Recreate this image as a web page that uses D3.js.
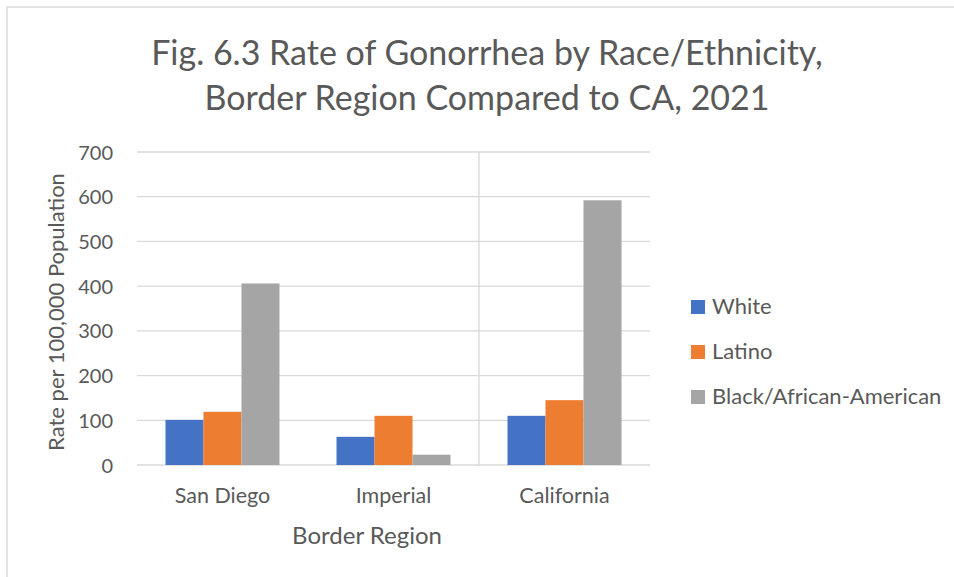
<!DOCTYPE html>
<html><head><meta charset="utf-8">
<script src="https://cdn.jsdelivr.net/npm/d3@7"></script>
<style>body{margin:0;background:#fff}svg text{font-family:Lato,"Open Sans",sans-serif;fill:#595959}</style>
</head><body><svg id="c" width="954" height="577"></svg>
<script>
const categories = ["San Diego", "Imperial", "California"];
const seriesNames = ["White", "Latino", "Black/African-American"];
const white = [101, 63, 110];
const latino = [119, 110, 145];
const black = [406, 23, 592];
const yTicks = [0, 100, 200, 300, 400, 500, 600, 700];
const colors = ["#4472c4", "#ed7d31", "#a5a5a5"];
const series = [white, latino, black];

const svg = d3.select("#c");
svg.append("rect").attr("x",7).attr("y",7).attr("width",990).attr("height",600)
  .attr("fill","none").attr("stroke","#e3e3e3").attr("stroke-width",2);

const x0 = d3.scaleBand().domain(categories).range([137, 650]).paddingInner(0).paddingOuter(0);
const x1 = d3.scaleBand().domain(seriesNames).range([0, x0.bandwidth()]).paddingInner(0).paddingOuter(0.75);
const y = d3.scaleLinear().domain([0, 700]).range([465, 152]);

// gridlines
svg.append("g").selectAll("line").data(yTicks).join("line")
  .attr("x1",137).attr("x2",650).attr("y1",d=>y(d)).attr("y2",d=>y(d))
  .attr("stroke","#d9d9d9").attr("stroke-width",1.3);
// vertical separator
svg.append("line").attr("x1",x0("California")).attr("x2",x0("California"))
  .attr("y1",y(700)).attr("y2",y(0)).attr("stroke","#d9d9d9").attr("stroke-width",1.3);

// y tick labels
const yAxis = d3.axisLeft(y).tickValues(yTicks).tickSize(0).tickPadding(0);
const ga = svg.append("g").attr("transform","translate(113,0)").call(yAxis);
ga.select(".domain").remove();
ga.selectAll("text").style("font-size","20px").attr("fill","#595959").attr("dy","0.35em");

// bars
series.forEach((vals, si) => {
  svg.append("g").selectAll("rect").data(vals).join("rect")
    .attr("x",(d,i)=>x0(categories[i]) + x1(seriesNames[si]))
    .attr("width",x1.bandwidth())
    .attr("y",d=>y(d)).attr("height",d=>y(0)-y(d))
    .attr("fill",colors[si]);
});

// x axis labels
const xAxis = d3.axisBottom(x0).tickSize(0).tickPadding(0);
const gx = svg.append("g").attr("transform","translate(0,495)").call(xAxis);
gx.select(".domain").remove();
gx.selectAll("text").style("font-size","21.5px").attr("fill","#595959").attr("dy","0.35em");

// axis titles
svg.append("text").attr("x",367).attr("y",538).attr("text-anchor","middle")
  .attr("dominant-baseline","middle").style("font-size","24px").text("Border Region");
svg.append("text").attr("transform","translate(58,312) rotate(-90)").attr("text-anchor","middle")
  .attr("dominant-baseline","middle").style("font-size","22px").text("Rate per 100,000 Population");

// title
const titleLines = ["Fig. 6.3 Rate of Gonorrhea by Race/Ethnicity,", "Border Region Compared to CA, 2021"];
svg.append("g").selectAll("text").data(titleLines).join("text")
  .attr("x",487).attr("y",(d,i)=>56+i*45).attr("text-anchor","middle")
  .attr("dominant-baseline","middle").style("font-size","34px").text(d=>d);

// legend
const lg = svg.append("g").selectAll("g").data(seriesNames).join("g")
  .attr("transform",(d,i)=>`translate(691,${307+i*45})`);
lg.append("rect").attr("x",0).attr("y",-7).attr("width",14).attr("height",14).attr("fill",(d,i)=>colors[i]);
lg.append("text").attr("x",21).attr("y",1).attr("dominant-baseline","middle").style("font-size","22px").text(d=>d);
</script></body></html>
